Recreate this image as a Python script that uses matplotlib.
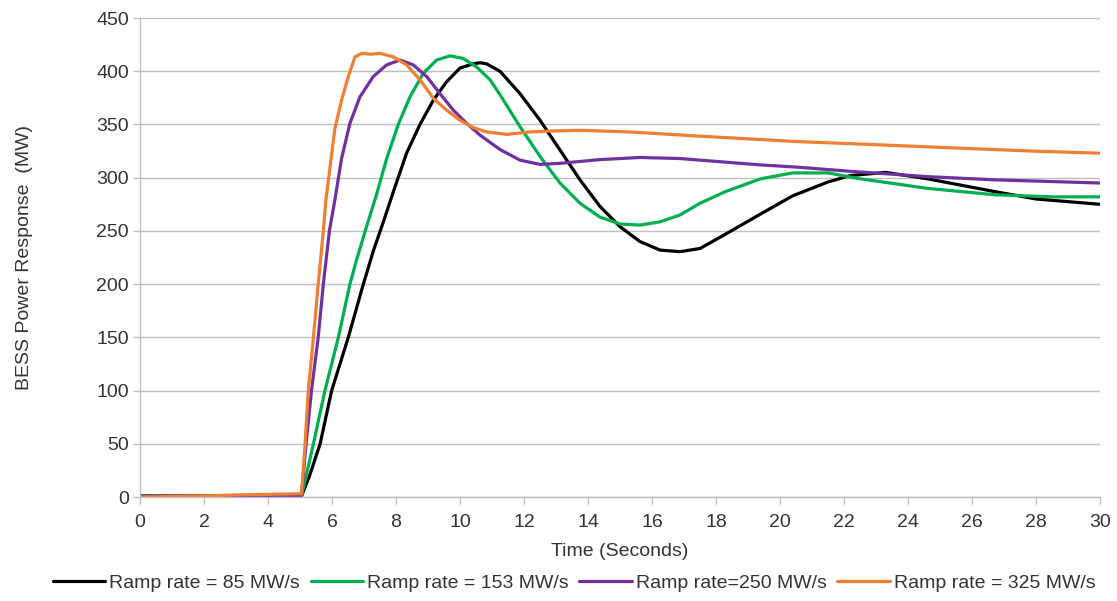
import matplotlib.pyplot as plt

plt.rcParams['font.family'] = ['Liberation Sans', 'DejaVu Sans']

# ramp rate = 85 MW/s
t_85 = [0, 1, 2, 3, 4, 5.0, 5.05, 5.3, 5.63, 5.99, 6.51, 6.98, 7.29, 7.6, 7.92, 8.33, 8.75,
        9.17, 9.58, 10.0, 10.42, 10.625, 10.83, 11.25, 11.875, 12.5, 13.125, 13.75, 14.375,
        15.0, 15.625, 16.25, 16.875, 17.5, 18.3, 19.4, 20.4, 21.5, 22.2, 23.3, 24.6, 26.7,
        28, 30]
p_85 = [1, 1, 1, 1, 1, 1, 1, 20, 50, 100, 150, 200, 231, 258, 287, 323, 350,
        373, 390, 403, 407, 408, 407, 400, 379, 354, 326, 298, 273,
        254, 240, 232, 230.5, 233.5, 247, 266, 283, 296, 302, 305, 299, 287,
        280, 275]

# ramp rate = 153 MW/s
t_153 = [0, 1, 2, 3, 4, 5.0, 5.05, 5.42, 5.78, 6.2, 6.56, 6.77, 7.08, 7.4, 7.71, 8.07, 8.44,
         8.85, 9.27, 9.69, 10.1, 10.52, 10.94, 11.25, 11.875, 12.5, 13.125, 13.75, 14.375,
         15.0, 15.625, 16.25, 16.875, 17.5, 18.3, 19.4, 20.4, 21.5, 22.5, 24.6, 26.7, 28.5, 30]
p_153 = [0, 0, 0, 0, 0, 0, 1, 50, 100, 150, 200, 223, 254, 285, 318, 350, 376,
         398, 410.5, 414.5, 412, 404, 392, 378, 348, 320, 295, 276, 263,
         256.5, 255.5, 258.5, 265, 276, 287, 299, 304.5, 304.5, 299, 290, 284, 282, 282]

# ramp rate = 250 MW/s
t_250 = [0, 1, 2, 3, 4, 5.0, 5.05, 5.19, 5.36, 5.57, 5.73, 5.92, 6.09, 6.3, 6.56, 6.875,
         7.29, 7.71, 8.125, 8.54, 8.96, 9.375, 9.79, 10.21, 10.625, 11.25, 11.875, 12.5,
         13.125, 14.375, 15.625, 16.875, 17.5, 19.4, 20.5, 22.2, 24.6, 26.7, 30]
p_250 = [0, 0, 0, 0.5, 1, 1, 2, 50, 100, 150, 200, 250, 279, 318, 351, 376,
         395, 406, 410.5, 406, 395, 379, 363.5, 351, 340, 326.5, 316.5, 312.5,
         313.5, 317, 319, 318, 316.5, 312, 310, 306, 301, 298, 295]

# ramp rate = 325 MW/s
t_325 = [0, 1, 2, 3, 4, 4.9, 5.05, 5.16, 5.26, 5.42, 5.57, 5.73, 5.81, 5.94, 6.09, 6.3,
         6.51, 6.72, 6.93, 7.2, 7.5, 7.92, 8.33, 8.75, 9.17, 9.58, 10.0, 10.42, 10.83,
         11.46, 12.19, 13.0, 13.75, 15.3, 17.5, 20.5, 23, 25.4, 27.9, 30]
p_325 = [0, 0.5, 1, 2, 2.5, 3, 3, 50, 100, 150, 200, 250, 279, 310, 346, 373,
         395, 413.5, 416.8, 416, 416.8, 413.5, 406, 392, 374.5, 363.5, 354, 347, 343,
         340.7, 343, 344, 344.5, 343, 339, 334, 331, 328, 325, 323]

series = [
    (t_85, p_85, '#000000', 'Ramp rate = 85 MW/s'),
    (t_153, p_153, '#00b050', 'Ramp rate = 153 MW/s'),
    (t_250, p_250, '#7030a0', 'Ramp rate=250 MW/s'),
    (t_325, p_325, '#f07f32', 'Ramp rate = 325 MW/s'),
]

fig = plt.figure(figsize=(11.17, 6.01), dpi=100)
ax = fig.add_axes([0.1253, 0.173, 0.8595, 0.797])

for t, p, c, lab in series:
    ax.plot(t, p, color=c, linewidth=2.3, label=lab,
            solid_joinstyle='round', solid_capstyle='round')

ax.set_xlim(0, 30)
ax.set_ylim(0, 450)
ax.set_xticks(range(0, 31, 2))
ax.set_yticks(range(0, 451, 50))
ax.yaxis.grid(True, color='#bfbfbf', linewidth=1.0)
ax.set_axisbelow(True)
for s in ['top', 'right']:
    ax.spines[s].set_visible(False)
for s in ['left', 'bottom']:
    ax.spines[s].set_color('#bfbfbf')
    ax.spines[s].set_linewidth(1.0)
ax.tick_params(axis='both', colors='#bfbfbf', labelcolor='#333333', labelsize=14,
               length=5, width=1.0)
ax.tick_params(axis='x', pad=7)
ax.tick_params(axis='y', pad=3)

ax.set_xlabel('Time (Seconds)', fontsize=14, color='#333333', labelpad=9)
ax.set_ylabel('BESS Power Response  (MW)', fontsize=14, color='#333333')
ax.yaxis.set_label_coords(-0.1115, 0.5)

fig.legend(loc='center', bbox_to_anchor=(0.514, 0.03), ncol=4, frameon=False,
           fontsize=14, handlelength=2.7, columnspacing=0.55, handletextpad=0.2,
           labelcolor='#333333')

fig.savefig('out.png', dpi=100)
